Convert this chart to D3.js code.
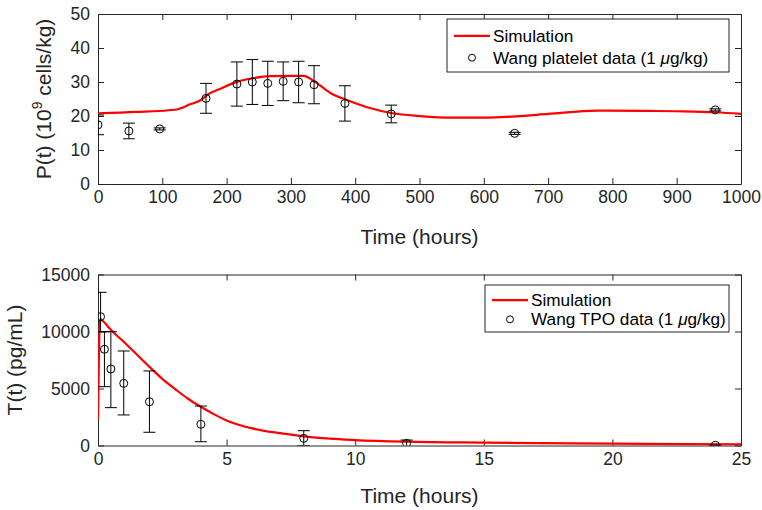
<!DOCTYPE html>
<html>
<head>
<meta charset="utf-8">
<script src="https://cdn.jsdelivr.net/npm/d3@7"></script>
<style>
  body { margin: 0; background: #fff; }
  svg { font-family: 'Liberation Sans', Arial, sans-serif; }
</style>
</head>
<body>
<svg id="chart" width="762" height="510"></svg>
<script>
// Platelet panel: simulation curve and Wang data (mean +/- sd)
const simPTime = [0, 60, 110, 124, 144, 160, 170, 190, 217, 241, 268, 300, 320, 337, 362, 387, 420, 458, 500, 550, 600, 650, 700, 776, 850, 900, 961, 1000];
const simPValue = [20.8, 21.2, 21.7, 22.0, 23.5, 24.7, 26.2, 28.0, 30.1, 31.1, 31.7, 31.8, 31.8, 30.1, 26.7, 24.7, 22.5, 20.8, 20.0, 19.5, 19.5, 19.9, 20.6, 21.6, 21.5, 21.4, 21.1, 20.6];
const plateletTime = [0, 48, 96, 168, 216, 240, 264, 288, 312, 336, 384, 456, 648, 960];
const plateletMean = [17.4, 15.6, 16.2, 25.2, 29.4, 30.0, 29.6, 30.2, 30.0, 29.2, 23.7, 20.6, 14.9, 21.8];
const plateletErr = [2.9, 2.3, 0.3, 4.4, 6.5, 6.6, 6.5, 5.7, 6.1, 5.6, 5.2, 2.6, 0.3, 0.3];

// TPO panel
const simTTime = [0, 0.03, 0.06, 0.09, 0.2, 0.5, 1.0, 1.5, 2.0, 2.5, 3.0, 3.5, 4.0, 4.5, 5.0, 5.5, 6.0, 7.0, 8.0, 9.0, 10, 12, 15, 20, 25];
const simTValue = [2240, 7000, 10300, 11100, 10900, 10150, 9100, 8000, 6900, 5850, 4950, 4100, 3400, 2750, 2200, 1800, 1500, 1100, 800, 600, 480, 340, 250, 160, 100];
const tpoTime = [0.1, 0.25, 0.5, 1, 2, 4, 8, 12, 24];
const tpoMean = [11300, 8440, 6710, 5450, 3840, 1860, 630, 190, 20];
const tpoErrMinus = [1320, 3280, 3390, 2770, 2680, 1530, 630, 290, 0];
const tpoErrPlus = [2140, 1540, 3270, 2840, 2700, 1600, 670, 290, 0];

const pTicksX = d3.range(0, 1001, 100);
const pTicksY = [0, 10, 20, 30, 40, 50];
const tTicksX = [0, 5, 10, 15, 20, 25];
const tTicksY = [0, 5000, 10000, 15000];

const axisColor = '#262626';
const svg = d3.select('#chart');

function drawPanel(opts) {
  const { id, x, y, xTicks, yTicks, xLabel, sim, data, legend } = opts;
  const [x0, x1] = x.range();
  const [y0, y1] = y.range();
  const g = svg.append('g');

  svg.append('clipPath').attr('id', id)
    .append('rect')
    .attr('x', x0).attr('y', y1)
    .attr('width', x1 - x0).attr('height', y0 - y1);

  // axes with inward ticks on all four sides
  const fmt = d3.format('d');
  g.append('g').attr('transform', `translate(0,${y0})`)
    .call(d3.axisBottom(x).tickValues(xTicks).tickFormat(fmt).tickSizeInner(-6).tickSizeOuter(0).tickPadding(7));
  g.append('g').attr('transform', `translate(0,${y1})`)
    .call(d3.axisTop(x).tickValues(xTicks).tickFormat('').tickSizeInner(-6).tickSizeOuter(0));
  g.append('g').attr('transform', `translate(${x0},0)`)
    .call(d3.axisLeft(y).tickValues(yTicks).tickFormat(fmt).tickSizeInner(-6).tickSizeOuter(0).tickPadding(8));
  g.append('g').attr('transform', `translate(${x1},0)`)
    .call(d3.axisRight(y).tickValues(yTicks).tickFormat('').tickSizeInner(-6).tickSizeOuter(0));
  g.selectAll('.domain').attr('stroke', axisColor);
  g.selectAll('.tick line').attr('stroke', axisColor);
  g.selectAll('.tick text').attr('fill', axisColor).style('font-size', '17.5px');

  g.append('text')
    .attr('x', (x0 + x1) / 2).attr('y', xLabel.y)
    .attr('text-anchor', 'middle')
    .attr('fill', axisColor)
    .style('font-size', '21px')
    .text('Time (hours)');

  const plot = g.append('g').attr('clip-path', `url(#${id})`);

  // simulation curve
  plot.append('path')
    .datum(sim.t.map((t, i) => [t, sim.v[i]]))
    .attr('fill', 'none')
    .attr('stroke', '#ff0000')
    .attr('stroke-width', 2.2)
    .attr('d', d3.line().x((d) => x(d[0])).y((d) => y(d[1])).curve(d3.curveMonotoneX));

  // error bars
  const bars = plot.selectAll('.eb')
    .data(data.t.map((t, i) => ({ t, m: data.m[i], lo: data.m[i] - data.em[i], hi: data.m[i] + data.ep[i] })))
    .enter().append('g')
    .attr('stroke', '#000').attr('stroke-width', 1).attr('fill', 'none');
  bars.append('line')
    .attr('x1', (d) => x(d.t)).attr('x2', (d) => x(d.t))
    .attr('y1', (d) => y(d.lo)).attr('y2', (d) => y(d.hi));
  bars.append('line')
    .attr('x1', (d) => x(d.t) - 6).attr('x2', (d) => x(d.t) + 6)
    .attr('y1', (d) => y(d.lo)).attr('y2', (d) => y(d.lo));
  bars.append('line')
    .attr('x1', (d) => x(d.t) - 6).attr('x2', (d) => x(d.t) + 6)
    .attr('y1', (d) => y(d.hi)).attr('y2', (d) => y(d.hi));
  bars.append('circle')
    .attr('cx', (d) => x(d.t)).attr('cy', (d) => y(d.m))
    .attr('r', 4);

  // legend
  const lg = g.append('g');
  lg.append('rect')
    .attr('x', legend.x).attr('y', legend.y)
    .attr('width', legend.w).attr('height', legend.h)
    .attr('fill', '#fff').attr('stroke', axisColor).attr('stroke-width', 1);
  const r1 = legend.y + legend.h * 0.32;
  const r2 = legend.y + legend.h * 0.73;
  lg.append('line')
    .attr('x1', legend.x + 7).attr('x2', legend.x + 43)
    .attr('y1', r1).attr('y2', r1)
    .attr('stroke', '#ff0000').attr('stroke-width', 2.2);
  lg.append('circle')
    .attr('cx', legend.x + 25).attr('cy', r2).attr('r', 3.5)
    .attr('fill', 'none').attr('stroke', '#000');
  lg.append('text')
    .attr('x', legend.x + 46).attr('y', r1).attr('dy', '0.35em')
    .attr('fill', '#000').style('font-size', '17.2px')
    .text('Simulation');
  const t2 = lg.append('text')
    .attr('x', legend.x + 46).attr('y', r2).attr('dy', '0.35em')
    .attr('fill', '#000').style('font-size', '17.2px');
  t2.append('tspan').text(legend.label + ' (1 ');
  t2.append('tspan').style('font-style', 'italic').text('\u03bc');
  t2.append('tspan').text('g/kg)');
  return g;
}

const xP = d3.scaleLinear().domain([0, 1000]).range([98, 741]);
const yP = d3.scaleLinear().domain([0, 50]).range([184, 14]);
drawPanel({
  id: 'clipP', x: xP, y: yP, xTicks: pTicksX, yTicks: pTicksY,
  xLabel: { y: 244 },
  sim: { t: simPTime, v: simPValue },
  data: { t: plateletTime, m: plateletMean, em: plateletErr, ep: plateletErr },
  legend: { x: 447, y: 19, w: 282, h: 53, label: 'Wang platelet data' },
});

const xT = d3.scaleLinear().domain([0, 25]).range([98, 741]);
const yT = d3.scaleLinear().domain([0, 15000]).range([445.5, 274.5]);
drawPanel({
  id: 'clipT', x: xT, y: yT, xTicks: tTicksX, yTicks: tTicksY,
  xLabel: { y: 503 },
  sim: { t: simTTime, v: simTValue },
  data: { t: tpoTime, m: tpoMean, em: tpoErrMinus, ep: tpoErrPlus },
  legend: { x: 485, y: 285, w: 244, h: 47, label: 'Wang TPO data' },
});

// y axis titles
const pLabel = svg.append('text')
  .attr('transform', 'translate(51,99) rotate(-90)')
  .attr('text-anchor', 'middle')
  .attr('fill', axisColor)
  .style('font-size', '21px');
pLabel.append('tspan').text('P(t) (10');
pLabel.append('tspan').attr('dy', -9).style('font-size', '14px').text('9');
pLabel.append('tspan').attr('dy', 9).text(' cells/kg)');

svg.append('text')
  .attr('transform', 'translate(22,360) rotate(-90)')
  .attr('text-anchor', 'middle')
  .attr('fill', axisColor)
  .style('font-size', '21px')
  .text('T(t) (pg/mL)');
</script>
</body>
</html>
